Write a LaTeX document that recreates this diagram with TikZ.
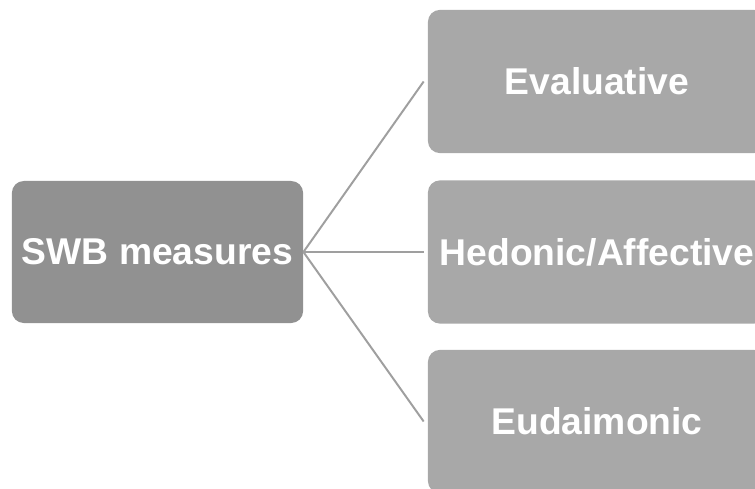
\documentclass[tikz,border=0pt]{standalone}
\usepackage{fontspec}
\setmainfont{Liberation Sans}

\begin{document}
\begin{tikzpicture}[x=0.025cm, y=-0.025cm,
    measure/.style={rectangle, rounded corners=0.3cm, minimum width=7.28cm,
      minimum height=3.55cm, inner sep=0pt, fill=gray!86, text=white,
      font=\fontsize{26.5}{30}\selectfont\bfseries},
    kind/.style={measure, fill=gray!68, minimum width=8.45cm, minimum height=3.58cm},
    link/.style={draw=gray!75, line width=1.4pt}]
      \useasboundingbox (0, 0) rectangle (755, 488);
      \clip (0, 0) rectangle (755, 488);
      % SWB measures:
      %   the root of the tree
      \node[measure] (swb) at (157.5, 252) {SWB measures};
      % Evaluative, Hedonic/Affective, Eudaimonic:
      %   the three kinds of measure
      \node[kind] (evaluative) at (597, 81.5) {Evaluative};
      \node[kind] (hedonic) at (597, 252) {Hedonic/Affective};
      \node[kind] (eudaimonic) at (597, 421.5) {Eudaimonic};

      \foreach \kindname in {evaluative, hedonic, eudaimonic}
        \draw[link] (swb.east) -- ([xshift=-0.1cm]\kindname.west);
\end{tikzpicture}
\end{document}
